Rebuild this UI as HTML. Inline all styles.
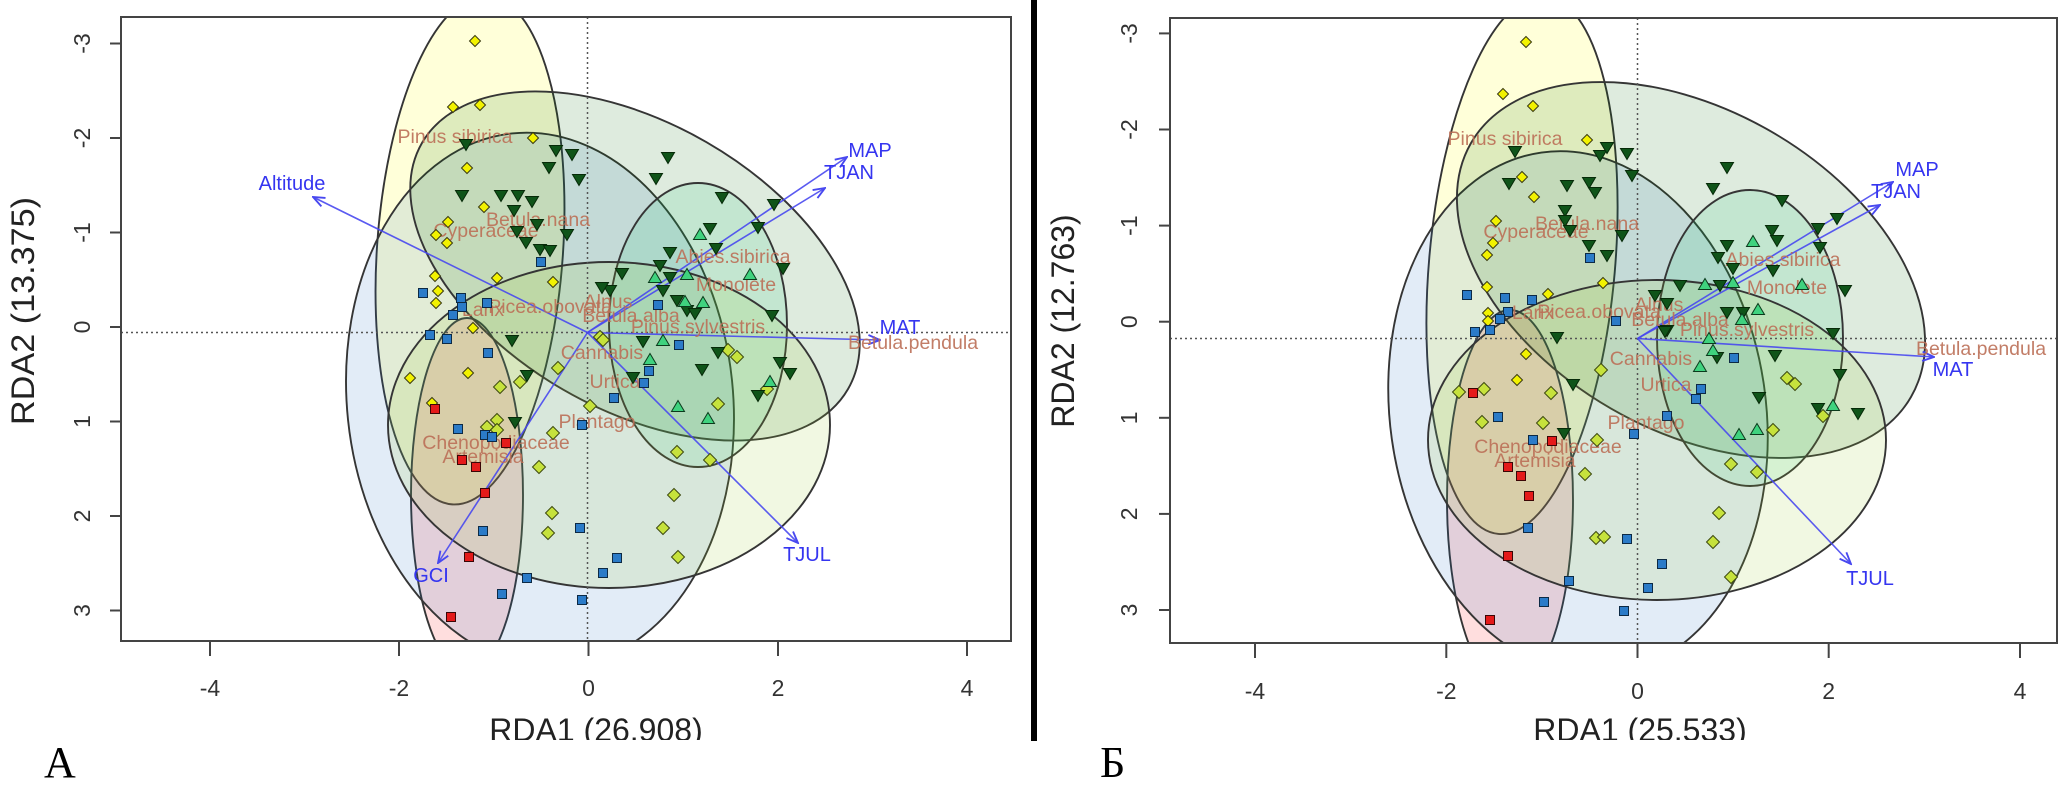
<!DOCTYPE html>
<html><head><meta charset="utf-8"><style>html,body{margin:0;padding:0;background:#fff}svg{display:block}</style></head>
<body>
<svg width="2064" height="800" viewBox="0 0 2064 800" xmlns="http://www.w3.org/2000/svg">
<defs>
<clipPath id="cl"><rect x="121" y="17" width="890" height="624"/></clipPath>
<clipPath id="cr"><rect x="1170" y="18" width="887" height="625"/></clipPath>
<marker id="ah" markerUnits="userSpaceOnUse" markerWidth="14" markerHeight="14" viewBox="0 0 12 12" refX="11" refY="6" orient="auto"><path d="M1,2 L11,6 L1,10" fill="none" stroke="#4848f0" stroke-width="1.6"/></marker>
<path id="Y" d="M0,-5.5L5.5,0L0,5.5L-5.5,0Z" fill="#f2f200" stroke="#3a3a10" stroke-width="1"/>
<path id="L" d="M0,-6.5L6.5,0L0,6.5L-6.5,0Z" fill="#c6e23c" stroke="#3d4a10" stroke-width="1"/>
<path id="G" d="M-6.5,-4.5L6.5,-4.5L0,6.5Z" fill="#0f5419" stroke="#062a08" stroke-width="1"/>
<path id="M" d="M-6.5,4.5L6.5,4.5L0,-6.5Z" fill="#3fd27e" stroke="#0b3a1c" stroke-width="1"/>
<rect id="B" x="-4.5" y="-4.5" width="9" height="9" fill="#2b7bc8" stroke="#0d2a45" stroke-width="1"/>
<rect id="R" x="-4.5" y="-4.5" width="9" height="9" fill="#e41a1a" stroke="#3a0606" stroke-width="1"/>
</defs>
<rect width="2064" height="800" fill="#fff"/>

<!-- ================= LEFT PANEL ================= -->
<g clip-path="url(#cl)">
<g stroke="#353535" stroke-width="1.9">
<ellipse cx="470" cy="250" rx="93" ry="255" transform="rotate(4 470 250)" fill="#ffff00" fill-opacity=".15"/>
<ellipse cx="467" cy="495" rx="56" ry="177" fill="#ff0000" fill-opacity=".13"/>
<ellipse cx="540" cy="400" rx="193" ry="268" transform="rotate(-6 540 400)" fill="#1f6fc0" fill-opacity=".13"/>
<ellipse cx="635" cy="266" rx="246" ry="143" transform="rotate(30 635 266)" fill="#006400" fill-opacity=".13"/>
<ellipse cx="698" cy="325" rx="89" ry="142" fill="#20d080" fill-opacity=".14"/>
<ellipse cx="609" cy="425" rx="221" ry="163" fill="#9acd32" fill-opacity=".14"/>
</g>
<g stroke="#555" stroke-width="1.5" stroke-dasharray="2,3">
<line x1="587.5" y1="17" x2="587.5" y2="641"/>
<line x1="121" y1="332.5" x2="1011" y2="332.5"/>
</g>
<g stroke="#4848f0" stroke-width="1.6" stroke-opacity=".9" marker-end="url(#ah)">
<line x1="587.5" y1="332.5" x2="313" y2="197"/>
<line x1="587.5" y1="332.5" x2="847" y2="157"/>
<line x1="587.5" y1="332.5" x2="825" y2="188"/>
<line x1="587.5" y1="332.5" x2="880" y2="340"/>
<line x1="587.5" y1="332.5" x2="798" y2="543"/>
<line x1="587.5" y1="332.5" x2="438" y2="563"/>
</g>
<g font-family="Liberation Sans, Arial, sans-serif" font-size="19.5" fill="#bb6f56" fill-opacity=".9" text-anchor="middle" dominant-baseline="central">
<text x="455" y="137">Pinus sibirica</text>
<text x="538" y="220">Betula.nana</text>
<text x="486" y="231">Cyperaceae</text>
<text x="483" y="310">Larix</text>
<text x="550" y="307">Picea.obovata</text>
<text x="733" y="257">Abies.sibirica</text>
<text x="736" y="285">Monolete</text>
<text x="608" y="302">Alnus</text>
<text x="631" y="316">Betula.alba</text>
<text x="698" y="327">Pinus.sylvestris</text>
<text x="913" y="343">Betula.pendula</text>
<text x="602" y="353">Cannabis</text>
<text x="615" y="382">Urtica</text>
<text x="597" y="422">Plantago</text>
<text x="496" y="443">Chenopodiaceae</text>
<text x="483" y="457">Artemisia</text>
</g>
<!-- points -->
<use href="#Y" x="475" y="41"/><use href="#Y" x="453" y="107"/><use href="#Y" x="480" y="105"/><use href="#Y" x="533" y="138"/><use href="#Y" x="467" y="168"/><use href="#Y" x="484" y="207"/><use href="#Y" x="448" y="222"/><use href="#Y" x="436" y="235"/><use href="#Y" x="447" y="243"/><use href="#Y" x="435" y="276"/><use href="#Y" x="497" y="278"/><use href="#Y" x="553" y="282"/><use href="#Y" x="438" y="291"/><use href="#Y" x="436" y="303"/><use href="#Y" x="473" y="328"/><use href="#Y" x="410" y="378"/><use href="#Y" x="432" y="403"/><use href="#Y" x="468" y="373"/>
<use href="#L" x="500" y="387"/><use href="#L" x="520" y="382"/><use href="#L" x="497" y="420"/><use href="#L" x="487" y="427"/><use href="#L" x="497" y="430"/><use href="#L" x="539" y="467"/><use href="#L" x="553" y="433"/><use href="#L" x="558" y="368"/><use href="#L" x="552" y="513"/><use href="#L" x="548" y="533"/><use href="#L" x="600" y="337"/><use href="#L" x="603" y="340"/><use href="#L" x="590" y="406"/><use href="#L" x="728" y="350"/><use href="#L" x="737" y="357"/><use href="#L" x="718" y="404"/><use href="#L" x="767" y="389"/><use href="#L" x="677" y="452"/><use href="#L" x="710" y="460"/><use href="#L" x="674" y="495"/><use href="#L" x="663" y="528"/><use href="#L" x="678" y="557"/>
<use href="#G" x="466" y="144"/><use href="#G" x="556" y="150"/><use href="#G" x="572" y="154"/><use href="#G" x="549" y="167"/><use href="#G" x="579" y="179"/><use href="#G" x="668" y="157"/><use href="#G" x="656" y="178"/><use href="#G" x="722" y="197"/><use href="#G" x="774" y="204"/><use href="#G" x="758" y="227"/><use href="#G" x="710" y="228"/><use href="#G" x="462" y="195"/><use href="#G" x="501" y="195"/><use href="#G" x="518" y="195"/><use href="#G" x="514" y="210"/><use href="#G" x="532" y="201"/><use href="#G" x="537" y="224"/><use href="#G" x="567" y="234"/><use href="#G" x="517" y="231"/><use href="#G" x="526" y="242"/><use href="#G" x="540" y="249"/><use href="#G" x="550" y="250"/><use href="#G" x="783" y="268"/><use href="#G" x="716" y="248"/><use href="#G" x="670" y="252"/><use href="#G" x="660" y="265"/><use href="#G" x="622" y="273"/><use href="#G" x="670" y="277"/><use href="#G" x="610" y="290"/><use href="#G" x="602" y="287"/><use href="#G" x="663" y="290"/><use href="#G" x="677" y="300"/><use href="#G" x="687" y="310"/><use href="#G" x="695" y="313"/><use href="#G" x="772" y="315"/><use href="#G" x="718" y="352"/><use href="#G" x="702" y="369"/><use href="#G" x="780" y="362"/><use href="#G" x="790" y="373"/><use href="#G" x="758" y="395"/><use href="#G" x="633" y="377"/><use href="#G" x="512" y="340"/><use href="#G" x="527" y="375"/><use href="#G" x="515" y="422"/><use href="#G" x="643" y="341"/>
<use href="#M" x="700" y="235"/><use href="#M" x="750" y="275"/><use href="#M" x="687" y="275"/><use href="#M" x="655" y="278"/><use href="#M" x="685" y="302"/><use href="#M" x="703" y="303"/><use href="#M" x="663" y="341"/><use href="#M" x="650" y="360"/><use href="#M" x="678" y="407"/><use href="#M" x="708" y="419"/><use href="#M" x="770" y="382"/>
<use href="#B" x="541" y="262"/><use href="#B" x="423" y="293"/><use href="#B" x="461" y="298"/><use href="#B" x="487" y="303"/><use href="#B" x="453" y="315"/><use href="#B" x="462" y="307"/><use href="#B" x="430" y="335"/><use href="#B" x="447" y="339"/><use href="#B" x="488" y="353"/><use href="#B" x="658" y="305"/><use href="#B" x="679" y="345"/><use href="#B" x="649" y="371"/><use href="#B" x="644" y="383"/><use href="#B" x="614" y="398"/><use href="#B" x="582" y="425"/><use href="#B" x="458" y="429"/><use href="#B" x="485" y="435"/><use href="#B" x="492" y="437"/><use href="#B" x="483" y="531"/><use href="#B" x="580" y="528"/><use href="#B" x="617" y="558"/><use href="#B" x="603" y="573"/><use href="#B" x="527" y="578"/><use href="#B" x="502" y="594"/><use href="#B" x="582" y="600"/>
<use href="#R" x="435" y="409"/><use href="#R" x="506" y="443"/><use href="#R" x="462" y="460"/><use href="#R" x="476" y="467"/><use href="#R" x="485" y="493"/><use href="#R" x="469" y="557"/><use href="#R" x="451" y="617"/>
<g font-family="Liberation Sans, Arial, sans-serif" font-size="20" fill="#3535f0" text-anchor="middle" dominant-baseline="central">
<text x="292" y="184">Altitude</text>
<text x="870" y="151">MAP</text>
<text x="849" y="173">TJAN</text>
<text x="900" y="328">MAT</text>
<text x="807" y="555">TJUL</text>
<text x="431" y="576">GCI</text>
</g>
</g>
<!-- left axes -->
<rect x="121" y="17" width="890" height="624" fill="none" stroke="#444" stroke-width="2"/>
<g stroke="#444" stroke-width="2">
<line x1="210" y1="641" x2="210" y2="656"/><line x1="399" y1="641" x2="399" y2="656"/><line x1="588.5" y1="641" x2="588.5" y2="656"/><line x1="778" y1="641" x2="778" y2="656"/><line x1="967" y1="641" x2="967" y2="656"/>
<line x1="110" y1="43.5" x2="121" y2="43.5"/><line x1="110" y1="138" x2="121" y2="138"/><line x1="110" y1="232.5" x2="121" y2="232.5"/><line x1="110" y1="327" x2="121" y2="327"/><line x1="110" y1="421.5" x2="121" y2="421.5"/><line x1="110" y1="516" x2="121" y2="516"/><line x1="110" y1="610.5" x2="121" y2="610.5"/>
</g>
<g font-family="Liberation Sans, Arial, sans-serif" font-size="23" fill="#333" text-anchor="middle">
<text x="210" y="696">-4</text><text x="399" y="696">-2</text><text x="588.5" y="696">0</text><text x="778" y="696">2</text><text x="967" y="696">4</text>
</g>
<g font-family="Liberation Sans, Arial, sans-serif" font-size="23" fill="#333" text-anchor="middle" dominant-baseline="central">
<text transform="translate(82,43.5) rotate(-90)">-3</text>
<text transform="translate(82,138) rotate(-90)">-2</text>
<text transform="translate(82,232.5) rotate(-90)">-1</text>
<text transform="translate(82,327) rotate(-90)">0</text>
<text transform="translate(82,421.5) rotate(-90)">1</text>
<text transform="translate(82,516) rotate(-90)">2</text>
<text transform="translate(82,610.5) rotate(-90)">3</text>
</g>
<text x="596" y="741" font-family="Liberation Sans, Arial, sans-serif" font-size="32" fill="#222" text-anchor="middle">RDA1 (26.908)</text>
<text transform="translate(23,311) rotate(-90)" font-family="Liberation Sans, Arial, sans-serif" font-size="32" fill="#222" text-anchor="middle" dominant-baseline="central" textLength="228" lengthAdjust="spacingAndGlyphs">RDA2 (13.375)</text>

<!-- ================= RIGHT PANEL ================= -->
<g clip-path="url(#cr)">
<g stroke="#353535" stroke-width="1.9">
<ellipse cx="1522" cy="265" rx="93" ry="270" transform="rotate(5 1522 265)" fill="#ffff00" fill-opacity=".15"/>
<ellipse cx="1510" cy="500" rx="63" ry="190" fill="#ff0000" fill-opacity=".13"/>
<ellipse cx="1578" cy="413" rx="188" ry="263" transform="rotate(-8 1578 413)" fill="#1f6fc0" fill-opacity=".13"/>
<ellipse cx="1691" cy="270" rx="254" ry="160" transform="rotate(30 1691 270)" fill="#006400" fill-opacity=".13"/>
<ellipse cx="1750" cy="338" rx="93" ry="148" fill="#20d080" fill-opacity=".14"/>
<ellipse cx="1657" cy="440" rx="229" ry="160" fill="#9acd32" fill-opacity=".14"/>
</g>
<g stroke="#555" stroke-width="1.5" stroke-dasharray="2,3">
<line x1="1637.5" y1="18" x2="1637.5" y2="643"/>
<line x1="1170" y1="338.5" x2="2057" y2="338.5"/>
</g>
<g stroke="#4848f0" stroke-width="1.6" stroke-opacity=".9" marker-end="url(#ah)">
<line x1="1637.5" y1="338.5" x2="1893" y2="182"/>
<line x1="1637.5" y1="338.5" x2="1880" y2="205"/>
<line x1="1637.5" y1="338.5" x2="1934" y2="357"/>
<line x1="1637.5" y1="338.5" x2="1851" y2="564"/>
</g>
<g font-family="Liberation Sans, Arial, sans-serif" font-size="19.5" fill="#bb6f56" fill-opacity=".9" text-anchor="middle" dominant-baseline="central">
<text x="1505" y="139">Pinus sibirica</text>
<text x="1587" y="224">Betula.nana</text>
<text x="1536" y="232">Cyperaceae</text>
<text x="1533" y="313">Larix</text>
<text x="1599" y="312">Picea.obovata</text>
<text x="1783" y="260">Abies.sibirica</text>
<text x="1787" y="288">Monolete</text>
<text x="1659" y="305">Alnus</text>
<text x="1680" y="320">Betula.alba</text>
<text x="1747" y="330">Pinus.sylvestris</text>
<text x="1981" y="349">Betula.pendula</text>
<text x="1651" y="359">Cannabis</text>
<text x="1666" y="385">Urtica</text>
<text x="1646" y="423">Plantago</text>
<text x="1548" y="447">Chenopodiaceae</text>
<text x="1535" y="461">Artemisia</text>
</g>
<use href="#Y" x="1526" y="42"/><use href="#Y" x="1503" y="94"/><use href="#Y" x="1533" y="106"/><use href="#Y" x="1587" y="140"/><use href="#Y" x="1522" y="177"/><use href="#Y" x="1534" y="197"/><use href="#Y" x="1496" y="221"/><use href="#Y" x="1493" y="243"/><use href="#Y" x="1487" y="255"/><use href="#Y" x="1487" y="287"/><use href="#Y" x="1548" y="294"/><use href="#Y" x="1603" y="283"/><use href="#Y" x="1488" y="313"/><use href="#Y" x="1488" y="321"/><use href="#Y" x="1526" y="354"/><use href="#Y" x="1517" y="380"/>
<use href="#L" x="1601" y="370"/><use href="#L" x="1551" y="393"/><use href="#L" x="1543" y="423"/><use href="#L" x="1597" y="440"/><use href="#L" x="1585" y="474"/><use href="#L" x="1787" y="378"/><use href="#L" x="1795" y="384"/><use href="#L" x="1823" y="416"/><use href="#L" x="1773" y="430"/><use href="#L" x="1731" y="464"/><use href="#L" x="1757" y="472"/><use href="#L" x="1719" y="513"/><use href="#L" x="1713" y="542"/><use href="#L" x="1731" y="577"/><use href="#L" x="1596" y="538"/><use href="#L" x="1604" y="537"/><use href="#L" x="1484" y="389"/><use href="#L" x="1482" y="422"/><use href="#L" x="1459" y="392"/>
<use href="#G" x="1515" y="151"/><use href="#G" x="1600" y="155"/><use href="#G" x="1607" y="147"/><use href="#G" x="1509" y="183"/><use href="#G" x="1567" y="185"/><use href="#G" x="1589" y="182"/><use href="#G" x="1595" y="192"/><use href="#G" x="1565" y="210"/><use href="#G" x="1565" y="220"/><use href="#G" x="1570" y="230"/><use href="#G" x="1589" y="245"/><use href="#G" x="1607" y="255"/><use href="#G" x="1557" y="337"/><use href="#G" x="1627" y="153"/><use href="#G" x="1632" y="175"/><use href="#G" x="1622" y="235"/><use href="#G" x="1727" y="167"/><use href="#G" x="1713" y="188"/><use href="#G" x="1782" y="200"/><use href="#G" x="1772" y="230"/><use href="#G" x="1777" y="240"/><use href="#G" x="1818" y="228"/><use href="#G" x="1837" y="218"/><use href="#G" x="1820" y="247"/><use href="#G" x="1727" y="245"/><use href="#G" x="1718" y="257"/><use href="#G" x="1733" y="268"/><use href="#G" x="1773" y="270"/><use href="#G" x="1720" y="285"/><use href="#G" x="1680" y="285"/><use href="#G" x="1655" y="295"/><use href="#G" x="1667" y="303"/><use href="#G" x="1727" y="312"/><use href="#G" x="1743" y="312"/><use href="#G" x="1845" y="290"/><use href="#G" x="1833" y="333"/><use href="#G" x="1667" y="330"/><use href="#G" x="1665" y="331"/><use href="#G" x="1717" y="357"/><use href="#G" x="1775" y="355"/><use href="#G" x="1840" y="374"/><use href="#G" x="1759" y="397"/><use href="#G" x="1818" y="408"/><use href="#G" x="1858" y="413"/><use href="#G" x="1573" y="384"/><use href="#G" x="1564" y="433"/>
<use href="#M" x="1753" y="242"/><use href="#M" x="1733" y="283"/><use href="#M" x="1705" y="285"/><use href="#M" x="1802" y="285"/><use href="#M" x="1758" y="310"/><use href="#M" x="1742" y="320"/><use href="#M" x="1713" y="351"/><use href="#M" x="1700" y="367"/><use href="#M" x="1739" y="435"/><use href="#M" x="1757" y="430"/><use href="#M" x="1833" y="406"/><use href="#M" x="1709" y="339"/>
<use href="#B" x="1590" y="258"/><use href="#B" x="1467" y="295"/><use href="#B" x="1505" y="298"/><use href="#B" x="1532" y="300"/><use href="#B" x="1508" y="312"/><use href="#B" x="1500" y="319"/><use href="#B" x="1490" y="330"/><use href="#B" x="1475" y="332"/><use href="#B" x="1616" y="321"/><use href="#B" x="1734" y="358"/><use href="#B" x="1701" y="389"/><use href="#B" x="1696" y="399"/><use href="#B" x="1667" y="416"/><use href="#B" x="1634" y="434"/><use href="#B" x="1498" y="417"/><use href="#B" x="1533" y="440"/><use href="#B" x="1528" y="528"/><use href="#B" x="1627" y="539"/><use href="#B" x="1662" y="564"/><use href="#B" x="1648" y="588"/><use href="#B" x="1569" y="581"/><use href="#B" x="1544" y="602"/><use href="#B" x="1624" y="611"/>
<use href="#R" x="1473" y="393"/><use href="#R" x="1552" y="441"/><use href="#R" x="1508" y="467"/><use href="#R" x="1521" y="476"/><use href="#R" x="1529" y="496"/><use href="#R" x="1508" y="556"/><use href="#R" x="1490" y="620"/>
<g font-family="Liberation Sans, Arial, sans-serif" font-size="20" fill="#3535f0" text-anchor="middle" dominant-baseline="central">
<text x="1917" y="170">MAP</text>
<text x="1896" y="192">TJAN</text>
<text x="1953" y="370">MAT</text>
<text x="1870" y="579">TJUL</text>
</g>
</g>
<!-- right axes -->
<rect x="1170" y="18" width="887" height="625" fill="none" stroke="#444" stroke-width="2"/>
<g stroke="#444" stroke-width="2">
<line x1="1255" y1="643" x2="1255" y2="658"/><line x1="1446.3" y1="643" x2="1446.3" y2="658"/><line x1="1637.5" y1="643" x2="1637.5" y2="658"/><line x1="1828.7" y1="643" x2="1828.7" y2="658"/><line x1="2020" y1="643" x2="2020" y2="658"/>
<line x1="1159" y1="33.4" x2="1170" y2="33.4"/><line x1="1159" y1="129.5" x2="1170" y2="129.5"/><line x1="1159" y1="225.6" x2="1170" y2="225.6"/><line x1="1159" y1="321.7" x2="1170" y2="321.7"/><line x1="1159" y1="417.8" x2="1170" y2="417.8"/><line x1="1159" y1="513.9" x2="1170" y2="513.9"/><line x1="1159" y1="610" x2="1170" y2="610"/>
</g>
<g font-family="Liberation Sans, Arial, sans-serif" font-size="23" fill="#333" text-anchor="middle">
<text x="1255" y="699">-4</text><text x="1446.3" y="699">-2</text><text x="1637.5" y="699">0</text><text x="1828.7" y="699">2</text><text x="2020" y="699">4</text>
</g>
<g font-family="Liberation Sans, Arial, sans-serif" font-size="23" fill="#333" text-anchor="middle" dominant-baseline="central">
<text transform="translate(1129,33.4) rotate(-90)">-3</text>
<text transform="translate(1129,129.5) rotate(-90)">-2</text>
<text transform="translate(1129,225.6) rotate(-90)">-1</text>
<text transform="translate(1129,321.7) rotate(-90)">0</text>
<text transform="translate(1129,417.8) rotate(-90)">1</text>
<text transform="translate(1129,513.9) rotate(-90)">2</text>
<text transform="translate(1129,610) rotate(-90)">3</text>
</g>
<text x="1640" y="741" font-family="Liberation Sans, Arial, sans-serif" font-size="32" fill="#222" text-anchor="middle">RDA1 (25.533)</text>
<text transform="translate(1063,321) rotate(-90)" font-family="Liberation Sans, Arial, sans-serif" font-size="32" fill="#222" text-anchor="middle" dominant-baseline="central">RDA2 (12.763)</text>

<!-- bottom crop, divider, panel letters -->
<rect x="0" y="740" width="2064" height="60" fill="#fff"/>
<rect x="1031" y="0" width="6" height="741" fill="#000"/>
<text x="44" y="777" font-family="Liberation Serif, Times New Roman, serif" font-size="44" fill="#000">A</text>
<text x="1100" y="777" font-family="Liberation Serif, Times New Roman, serif" font-size="44" fill="#000">Б</text>
</svg>
</body></html>
